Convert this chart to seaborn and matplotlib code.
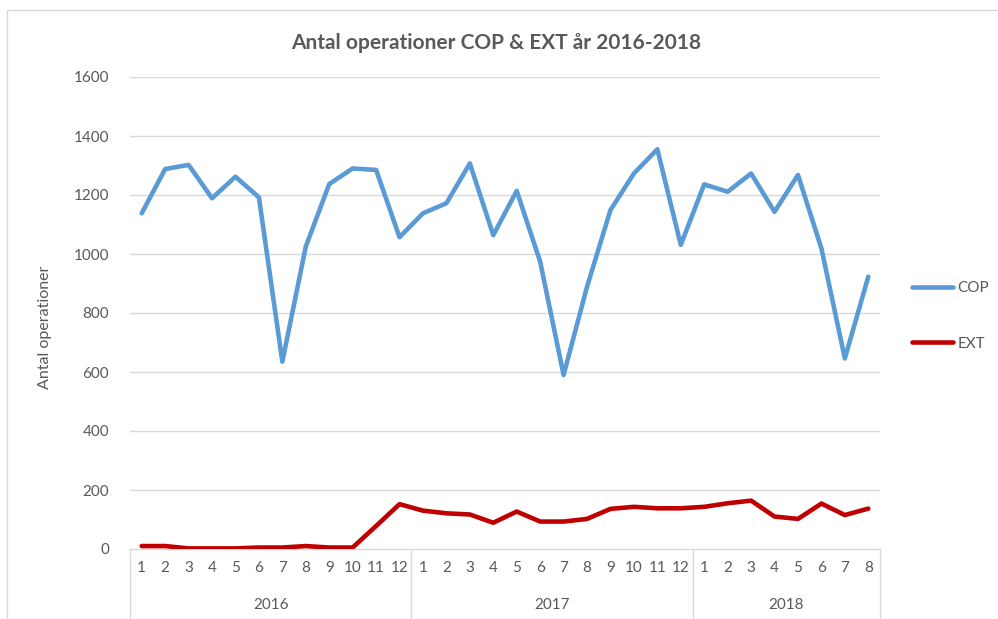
import matplotlib
matplotlib.use("Agg")
import matplotlib.pyplot as plt
import matplotlib.transforms as mtransforms
from matplotlib.lines import Line2D
import seaborn as sns
import pandas as pd

years = ["2016", "2017", "2018"]
months_per_year = [12, 12, 8]
month_labels = [str(m) for n in months_per_year for m in range(1, n + 1)]

cop = [1138, 1288, 1302, 1189, 1262, 1192, 635, 1025, 1237, 1290, 1285, 1057,
       1138, 1172, 1307, 1064, 1214, 974, 590, 889, 1149, 1273, 1355, 1031,
       1236, 1211, 1273, 1143, 1268, 1019, 646, 923]
ext = [10, 10, 2, 2, 2, 5, 5, 10, 5, 5, 78, 152,
       130, 121, 117, 89, 127, 93, 93, 102, 136, 143, 138, 138,
       143, 155, 164, 110, 102, 154, 115, 137]

y_ticks = [0, 200, 400, 600, 800, 1000, 1200, 1400, 1600]

sns.set_theme(style="white")
plt.rcParams["font.family"] = ["Lato", "DejaVu Sans"]

TXT = "#595959"
GRID = "#D9D9D9"
FS = 11

idx = list(range(len(cop)))
df = pd.DataFrame({
    "idx": idx * 2,
    "value": cop + ext,
    "serie": ["COP"] * len(cop) + ["EXT"] * len(ext),
})

W, H = 998, 619
fig = plt.figure(figsize=(W / 100, H / 100), dpi=100)
ax = fig.add_axes([130 / W, 1 - 549 / H, 750 / W, 472 / H])

sns.lineplot(data=df, x="idx", y="value", hue="serie",
             palette={"COP": "#5B9BD5", "EXT": "#C00000"},
             linewidth=3.3, ax=ax, legend=False, zorder=3)

ax.set_xlim(-0.5, len(cop) - 0.5)
ax.set_ylim(0, 1600)
ax.set_yticks(y_ticks)
ax.set_yticklabels([str(v) for v in y_ticks], color=TXT, fontsize=FS)
ax.set_xticks(idx)
ax.set_xticklabels(month_labels, color=TXT, fontsize=FS)
ax.tick_params(axis="both", length=0)
ax.tick_params(axis="y", pad=15)
ax.tick_params(axis="x", pad=9)
ax.set_xlabel("")
ax.set_ylabel("Antal operationer", color=TXT, fontsize=11.5)
ax.yaxis.set_label_coords(-(130 - 52) / 750, 0.47)

for y in y_ticks[1:]:
    ax.axhline(y, color=GRID, linewidth=1, zorder=1)

for s in ["top", "right", "left"]:
    ax.spines[s].set_visible(False)
ax.spines["bottom"].set_color(GRID)
ax.spines["bottom"].set_linewidth(1)

trans = mtransforms.blended_transform_factory(ax.transData, ax.transAxes)
bottom = -(H - 549) / 472
start = -0.5
for yr, n in zip(years, months_per_year):
    ax.plot([start, start], [0, bottom], transform=trans, color=GRID,
            linewidth=1, clip_on=False)
    ax.text(start + n / 2, -(605 - 549) / 472, yr, transform=trans,
            ha="center", va="center", color=TXT, fontsize=FS)
    start += n
ax.plot([start, start], [0, bottom], transform=trans, color=GRID,
        linewidth=1, clip_on=False)

fig.text(496 / W, 1 - 43 / H, "Antal operationer COP & EXT år 2016-2018",
         ha="center", va="center", color=TXT, fontsize=15, fontweight="bold")

handles = [Line2D([0], [0], color="#5B9BD5", linewidth=3.3),
           Line2D([0], [0], color="#C00000", linewidth=3.3)]
leg = fig.legend(handles, ["COP", "EXT"], loc="center left",
                 bbox_to_anchor=(898 / W, 1 - 316 / H), frameon=False,
                 fontsize=FS, labelspacing=2.7, handlelength=2.7,
                 handletextpad=0.3)
for t in leg.get_texts():
    t.set_color(TXT)

# outer chart border (top and left visible)
fig.add_artist(Line2D([7 / W, 7 / W], [0, 1 - 10 / H], color=GRID,
                      linewidth=1, transform=fig.transFigure))
fig.add_artist(Line2D([7 / W, 1], [1 - 10 / H, 1 - 10 / H], color=GRID,
                      linewidth=1, transform=fig.transFigure))

fig.savefig("out.png", dpi=100, facecolor="white")
